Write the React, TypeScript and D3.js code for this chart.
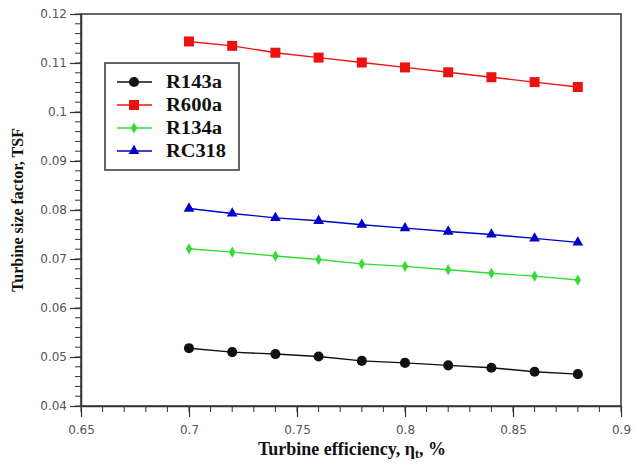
import React, { useEffect, useRef } from 'react'
import * as d3 from 'd3'

const efficiency = [0.7, 0.72, 0.74, 0.76, 0.78, 0.8, 0.82, 0.84, 0.86, 0.88]
const r143a = [0.0518, 0.051, 0.0506, 0.0501, 0.0492, 0.0488, 0.0483, 0.0478, 0.047, 0.0465]
const r600a = [0.1144, 0.1135, 0.1121, 0.1111, 0.1101, 0.1091, 0.1081, 0.1071, 0.1061, 0.1051]
const r134a = [0.0721, 0.0714, 0.0706, 0.0699, 0.069, 0.0685, 0.0678, 0.0671, 0.0665, 0.0657]
const rc318 = [0.0803, 0.0793, 0.0784, 0.0778, 0.077, 0.0763, 0.0756, 0.075, 0.0742, 0.0734]

const xTicks = [0.65, 0.7, 0.75, 0.8, 0.85, 0.9]
const yTicks = [0.04, 0.05, 0.06, 0.07, 0.08, 0.09, 0.1, 0.11, 0.12]

const series = [
  { name: 'R143a', values: r143a, color: '#111111', marker: 'circle' },
  { name: 'R600a', values: r600a, color: '#ee1111', marker: 'square' },
  { name: 'R134a', values: r134a, color: '#33dd33', marker: 'diamond' },
  { name: 'RC318', values: rc318, color: '#0000cc', marker: 'triangle' },
]

const symbolFor = (m: string) => {
  if (m === 'circle') return d3.symbol(d3.symbolCircle, 80)
  if (m === 'square') return d3.symbol(d3.symbolSquare, 100)
  if (m === 'diamond') return d3.symbol(d3.symbolDiamond, 36)
  return d3.symbol(d3.symbolTriangle, 50)
}

const serif = '"Liberation Serif", "Times New Roman", serif'

export default function App() {
  const ref = useRef<SVGSVGElement | null>(null)

  useEffect(() => {
    const svg = d3.select(ref.current)
    svg.selectAll('*').remove()
    const width = 638, height = 464
    const left = 81, right = 621, top = 14, bottom = 406

    const x = d3.scaleLinear().domain([0.65, 0.9]).range([left, right])
    const y = d3.scaleLinear().domain([0.04, 0.12]).range([bottom, top])

    svg.append('rect').attr('width', width).attr('height', height).attr('fill', '#fff')

    const tickFont = '"DejaVu Sans", Verdana, sans-serif'

    // x axis with minor ticks
    const xAxis = svg.append('g').attr('transform', `translate(0,${bottom})`)
    xAxis.call(d3.axisBottom(x).tickValues(xTicks).tickSize(11).tickSizeOuter(0)
      .tickFormat(d => d3.format('')(+d)))
    xAxis.append('g').selectAll('line').data(d3.range(0.65, 0.9001, 0.01)).enter().append('line')
      .attr('x1', d => x(d)).attr('x2', d => x(d)).attr('y1', 0).attr('y2', 6)
      .attr('stroke', '#333')
    xAxis.selectAll('.domain').attr('stroke', '#333').attr('stroke-width', 1.5)
    xAxis.selectAll('.tick line').attr('stroke', '#333').attr('stroke-width', 1.2)
    xAxis.selectAll('.tick text').attr('font-family', tickFont).attr('font-size', 12)
      .attr('fill', '#555').attr('dy', '1.2em')

    // y axis with minor ticks
    const yAxis = svg.append('g').attr('transform', `translate(${left},0)`)
    yAxis.call(d3.axisLeft(y).tickValues(yTicks).tickSize(11).tickSizeOuter(0)
      .tickFormat(d => d3.format('')(+d)))
    yAxis.append('g').selectAll('line').data(d3.range(0.04, 0.12001, 0.002)).enter().append('line')
      .attr('x1', 0).attr('x2', -6).attr('y1', d => y(d)).attr('y2', d => y(d))
      .attr('stroke', '#333')
    yAxis.selectAll('.domain').attr('stroke', '#333').attr('stroke-width', 1.5)
    yAxis.selectAll('.tick line').attr('stroke', '#333').attr('stroke-width', 1.2)
    yAxis.selectAll('.tick text').attr('font-family', tickFont).attr('font-size', 12)
      .attr('fill', '#555').attr('x', -14)

    // frame
    svg.append('rect').attr('x', left).attr('y', top).attr('width', right - left).attr('height', bottom - top)
      .attr('fill', 'none').attr('stroke', '#333').attr('stroke-width', 1.5)

    // series
    const line = d3.line<number>().x((_, i) => x(efficiency[i])).y(v => y(v))
    series.forEach(s => {
      svg.append('path').datum(s.values).attr('fill', 'none').attr('stroke', s.color)
        .attr('stroke-width', 1.4).attr('d', line)
      svg.append('g').selectAll('path').data(s.values).enter().append('path')
        .attr('transform', (v, i) => `translate(${x(efficiency[i])},${y(v)})`)
        .attr('d', symbolFor(s.marker)())
        .attr('fill', s.color)
    })

    // legend
    const lg = svg.append('g')
    lg.append('rect').attr('x', 105).attr('y', 63).attr('width', 134).attr('height', 107)
      .attr('fill', '#fff').attr('stroke', '#555').attr('stroke-width', 1.8)
    series.forEach((s, i) => {
      const ly = 82 + i * 23
      lg.append('line').attr('x1', 117).attr('x2', 152).attr('y1', ly).attr('y2', ly)
        .attr('stroke', s.color).attr('stroke-width', 1.4)
      lg.append('path').attr('transform', `translate(134,${ly})`).attr('d', symbolFor(s.marker)()).attr('fill', s.color)
      lg.append('text').attr('x', 166).attr('y', ly + 6).text(s.name)
        .attr('font-family', serif).attr('font-weight', 'bold')
        .attr('font-size', 18).attr('fill', '#111')
        .attr('textLength', s.name === 'RC318' ? 60 : 56).attr('lengthAdjust', 'spacingAndGlyphs')
    })

    // axis titles
    const xt = svg.append('text').attr('x', 352).attr('y', 455).attr('text-anchor', 'middle')
      .attr('font-family', serif).attr('font-weight', 'bold')
      .attr('font-size', 18).attr('fill', '#111')
    xt.append('tspan').text('Turbine efficiency, η')
    xt.append('tspan').text('t').attr('font-size', 12).attr('dy', 3)
    xt.append('tspan').text(', %').attr('dy', -3)

    svg.append('text').attr('transform', `translate(23,${(top + bottom) / 2}) rotate(-90)`)
      .attr('text-anchor', 'middle')
      .attr('font-family', serif).attr('font-weight', 'bold')
      .attr('font-size', 16).attr('fill', '#111')
      .text('Turbine size factor, TSF')
  }, [])

  return <svg ref={ref} width={638} height={464} style={{ position: 'absolute', left: 0, top: 0 }} />
}
